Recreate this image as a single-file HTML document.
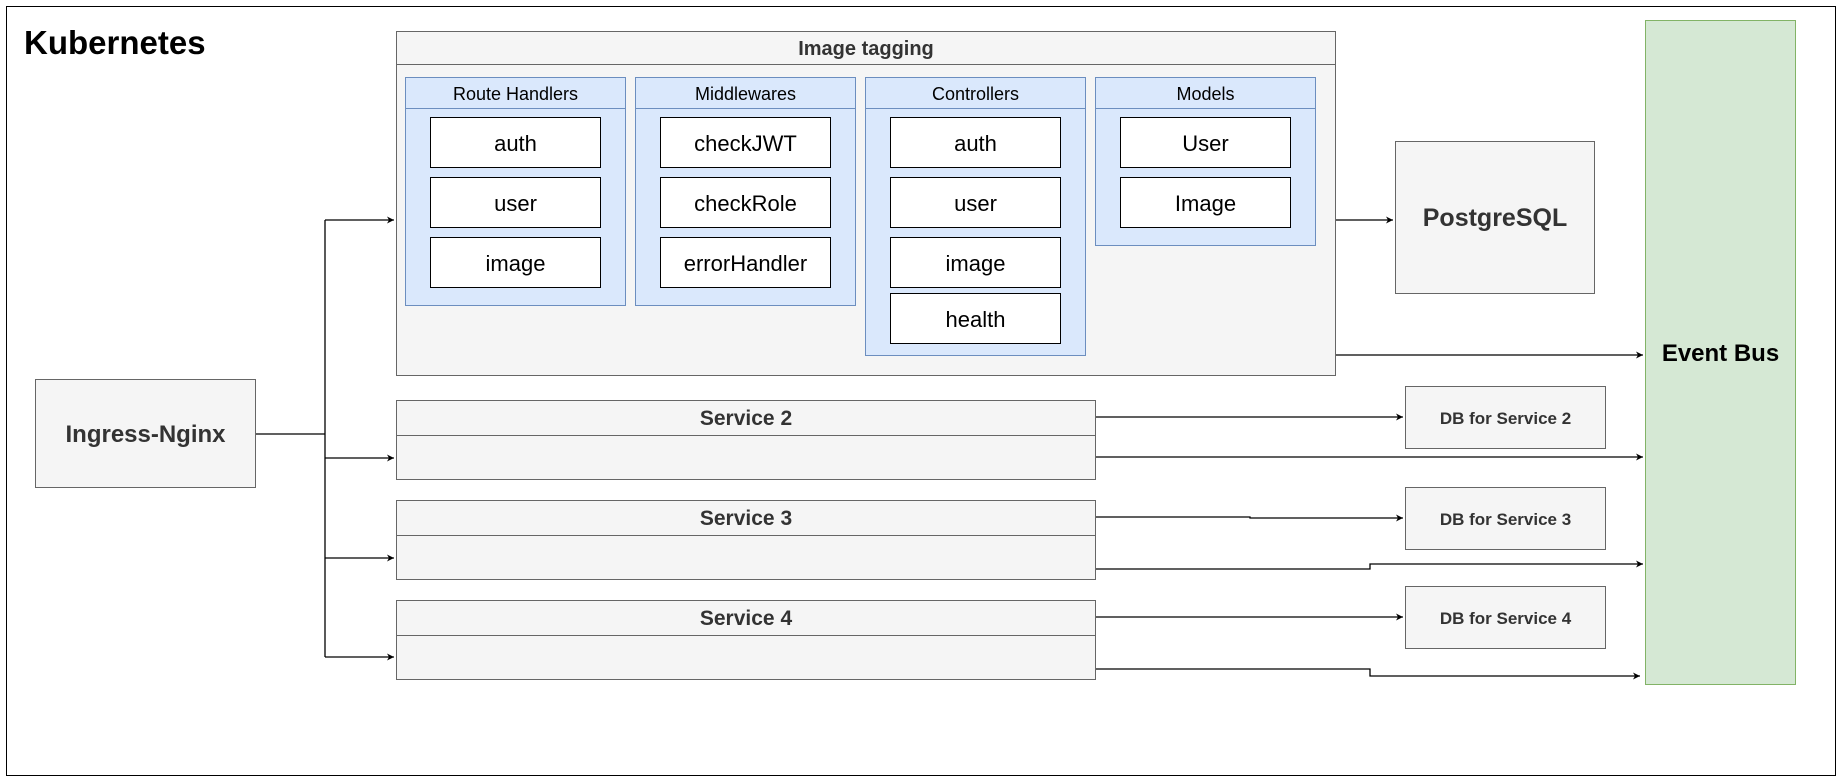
<!DOCTYPE html>
<html><head><meta charset="utf-8"><style>
body{margin:0;width:1841px;height:781px;background:#fff;position:relative;overflow:hidden;font-family:"Liberation Sans",sans-serif}
.a{position:absolute;box-sizing:border-box}
.g{background:#f5f5f5;border:1px solid #666}
.b{background:#dae8fc;border:1px solid #6c8ebf}
.w{background:#fff;border:1px solid #000;display:flex;align-items:center;justify-content:center;font-size:22px;color:#000;padding-top:2px}
.c{display:flex;align-items:center;justify-content:center;font-weight:bold;color:#333;padding-top:2px}
.hd{position:absolute;left:0;right:0;top:0;height:31px;border-bottom:1px solid #6c8ebf;display:flex;align-items:center;justify-content:center;font-size:18px;color:#000;padding-top:2px;box-sizing:border-box}
</style></head><body>
<div class="a" style="left:6px;top:6px;width:1830px;height:770px;border:1px solid #000"></div>
<div class="a" style="left:24px;top:24px;font-size:33px;font-weight:bold;color:#000">Kubernetes</div>

<div class="a g" style="left:396px;top:31px;width:940px;height:345px"></div>
<div class="a" style="left:396px;top:64px;width:940px;border-top:1px solid #666"></div>
<div class="a c" style="left:396px;top:31px;width:940px;height:34px;font-size:20px">Image tagging</div>

<div class="a b" style="left:405px;top:77px;width:221px;height:229px"><div class="hd">Route Handlers</div></div>
<div class="a b" style="left:635px;top:77px;width:221px;height:229px"><div class="hd">Middlewares</div></div>
<div class="a b" style="left:865px;top:77px;width:221px;height:279px"><div class="hd">Controllers</div></div>
<div class="a b" style="left:1095px;top:77px;width:221px;height:169px"><div class="hd">Models</div></div>

<div class="a w" style="left:430px;top:117px;width:171px;height:51px">auth</div>
<div class="a w" style="left:430px;top:177px;width:171px;height:51px">user</div>
<div class="a w" style="left:430px;top:237px;width:171px;height:51px">image</div>
<div class="a w" style="left:660px;top:117px;width:171px;height:51px">checkJWT</div>
<div class="a w" style="left:660px;top:177px;width:171px;height:51px">checkRole</div>
<div class="a w" style="left:660px;top:237px;width:171px;height:51px">errorHandler</div>
<div class="a w" style="left:890px;top:117px;width:171px;height:51px">auth</div>
<div class="a w" style="left:890px;top:177px;width:171px;height:51px">user</div>
<div class="a w" style="left:890px;top:237px;width:171px;height:51px">image</div>
<div class="a w" style="left:890px;top:293px;width:171px;height:51px">health</div>
<div class="a w" style="left:1120px;top:117px;width:171px;height:51px">User</div>
<div class="a w" style="left:1120px;top:177px;width:171px;height:51px">Image</div>

<div class="a g c" style="left:1395px;top:141px;width:200px;height:153px;font-size:25px">PostgreSQL</div>
<div class="a c" style="left:1645px;top:20px;width:151px;height:665px;background:#d5e8d4;border:1px solid #82b366;font-size:24px;color:#000">Event Bus</div>
<div class="a g c" style="left:35px;top:379px;width:221px;height:109px;font-size:24px">Ingress-Nginx</div>

<div class="a g" style="left:396px;top:400px;width:700px;height:80px"></div>
<div class="a" style="left:396px;top:435px;width:700px;border-top:1px solid #666"></div>
<div class="a c" style="left:396px;top:400px;width:700px;height:36px;font-size:21px">Service 2</div>
<div class="a g" style="left:396px;top:500px;width:700px;height:80px"></div>
<div class="a" style="left:396px;top:535px;width:700px;border-top:1px solid #666"></div>
<div class="a c" style="left:396px;top:500px;width:700px;height:36px;font-size:21px">Service 3</div>
<div class="a g" style="left:396px;top:600px;width:700px;height:80px"></div>
<div class="a" style="left:396px;top:635px;width:700px;border-top:1px solid #666"></div>
<div class="a c" style="left:396px;top:600px;width:700px;height:36px;font-size:21px">Service 4</div>

<div class="a g c" style="left:1405px;top:386px;width:201px;height:63px;font-size:17px">DB for Service 2</div>
<div class="a g c" style="left:1405px;top:487px;width:201px;height:63px;font-size:17px">DB for Service 3</div>
<div class="a g c" style="left:1405px;top:586px;width:201px;height:63px;font-size:17px">DB for Service 4</div>

<svg class="a" style="left:0;top:0" width="1841" height="781">
<defs><marker id="m" markerWidth="8" markerHeight="8" refX="7" refY="4" orient="auto" markerUnits="userSpaceOnUse"><path d="M0,0.5 L7,4 L0,7.5 L2,4 z" fill="#000"/></marker></defs>
<g stroke="#000" stroke-width="1.3" fill="none">
<path d="M256,434 H325"/>
<path d="M325,220 V657"/>
<path d="M325,220 H394" marker-end="url(#m)"/>
<path d="M325,458 H394" marker-end="url(#m)"/>
<path d="M325,558 H394" marker-end="url(#m)"/>
<path d="M325,657 H394" marker-end="url(#m)"/>
<path d="M1336,220 H1393" marker-end="url(#m)"/>
<path d="M1336,355 H1643" marker-end="url(#m)"/>
<path d="M1096,417 H1403" marker-end="url(#m)"/>
<path d="M1096,457 H1643" marker-end="url(#m)"/>
<path d="M1096,517 H1250 V518 H1403" marker-end="url(#m)"/>
<path d="M1096,569 H1370 V564 H1643" marker-end="url(#m)"/>
<path d="M1096,617 H1403" marker-end="url(#m)"/>
<path d="M1096,669 H1370 V676 H1640" marker-end="url(#m)"/>
</g></svg>
</body></html>
